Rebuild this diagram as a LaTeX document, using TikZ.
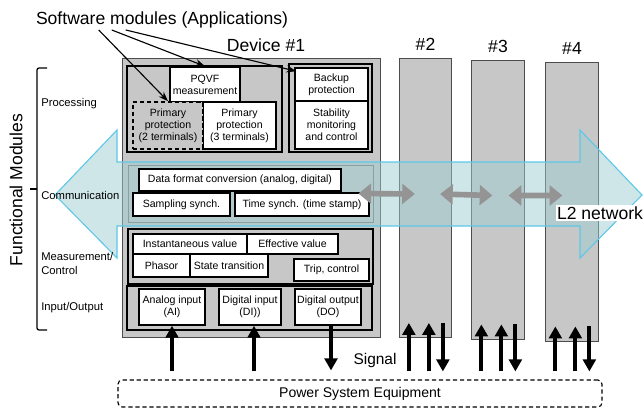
\documentclass[tikz,border=0pt]{standalone}
\usepackage{fontspec}
\setmainfont{Liberation Sans}
\usetikzlibrary{arrows.meta,calc,positioning}

\definecolor{netfill}{RGB}{159,205,209}
\definecolor{netline}{RGB}{95,200,232}

\begin{document}
\begin{tikzpicture}[x=0.25mm, y=-0.25mm,
  every node/.style={inner sep=0pt},
  devbox/.style={draw=black!70, fill=black!22, line width=0.6pt},
  grpbox/.style={draw=black, fill=black!22, line width=1.2pt},
  modbox/.style={draw=black, fill=white, line width=1.1pt, align=center,
    font=\fontsize{7.5}{8.6}\selectfont},
  laylabel/.style={anchor=west, align=left, font=\fontsize{8}{9.4}\selectfont},
  big/.style={font=\fontsize{12.5}{14}\selectfont},
  sigarrow/.style={line width=2.8pt, -{Triangle[length=8.5pt,width=9pt]}},
  netarrow/.style={draw=black!42, line width=4pt,
    {Triangle[length=9pt,width=14pt]}-{Triangle[length=9pt,width=14pt]}},
  swarrow/.style={line width=0.8pt, -{Stealth[length=7pt,width=5pt]}}]
  \useasboundingbox (0,0) rectangle (644,409);

  % devices
  \node[devbox, minimum width=64.5mm, minimum height=69.75mm] (dev1) at (251,197.5) {};
  \foreach \n/\x/\y/\lab in {dev2/425.5/198/2, dev3/498/199.5/3, dev4/572/201.5/4}
    \node[devbox, minimum width=13.1mm, minimum height=69.75mm,
      label={[big, label distance=1.75mm]above:\#\lab}] (\n) at (\x,\y) {};
  \node[big] (dev1lab) at (266,45) {Device \#1};

  % module groups of device #1
  \draw[grpbox] (127,66) rectangle (282,152);
  \draw[grpbox] (289,64) rectangle (372,152);
  \draw[devbox, draw=black!55] (128,165) rectangle (373,222);
  \draw[grpbox] (128,229) rectangle (373,284);
  \draw[grpbox] (127,286) rectangle (372,330);

  \foreach \n/\x/\y/\w/\h/\t in {
      pqvf/205/84.5/70/35/{PQVF\\measurement},
      pp3/239.5/125.5/73/47/{Primary\\protection\\(3 terminals)},
      backup/331.5/84.5/73/33/{Backup\\protection},
      stab/331.5/125/73/48/{Stability\\monitoring\\and control}}
    \node[modbox, minimum width=\w*0.25mm, minimum height=\h*0.25mm] (\n) at (\x,\y) {\t};
  \node[modbox, fill=black!22, dash pattern=on 3pt off 2pt, minimum width=17.5mm,
    minimum height=11.75mm] (pp2) at (168,125.5) {Primary\\protection\\(2 terminals)};

  % L2 network
  \path[fill=netfill, fill opacity=0.5, draw=netline, line width=0.8pt]
    (55,195) -- (117,130) -- (117,162) -- (580,162) -- (580,130) -- (642,195)
    -- (580,258) -- (580,226) -- (117,226) -- (117,258) -- cycle;

  \foreach \n/\x/\y/\w/\h/\t in {
      dataconv/240/180/202/22/{Data format conversion (analog, digital)},
      sampsync/181.5/204.5/97/23/{Sampling synch.},
      timesync/302/204.5/134/23/{Time synch. (time stamp)},
      inst/190/244/114/20/{Instantaneous value},
      eff/292.5/244/91/20/{Effective value},
      phasor/161.5/265.5/57/23/{Phasor},
      state/229/265.5/78/23/{State transition},
      trip/331.5/270/75/22/{Trip, control},
      ai/172/307/66/36/{Analog input\\(AI)},
      di/250/307/62/36/{Digital input\\(DI))},
      dout/328/307/66/36/{Digital output\\(DO)}}
    \node[modbox, minimum width=\w*0.25mm, minimum height=\h*0.25mm] (\n) at (\x,\y) {\t};

  \draw[netarrow] ([xshift=-5.5mm,yshift=1mm]dev1.east) -- ([xshift=4mm,yshift=1mm]dev2.west);
  \draw[netarrow] ([xshift=-3mm,yshift=1mm]dev2.east) -- ([xshift=5.25mm,yshift=1mm]dev3.west);
  \draw[netarrow] ([xshift=-4mm,yshift=1mm]dev3.east) -- ([xshift=4.25mm,yshift=1.5mm]dev4.west);
  \node[big, fill=white, inner sep=1pt] (l2) at (600,213) {L2 network};

  % functional modules
  \node[big, rotate=90] (fm) at (16,190) {Functional Modules};
  \draw[line width=0.9pt, rounded corners=1.5pt] (47,68) -- (37,68) -- (37,330) -- (47,330);
  \draw[line width=0.9pt] (37,189) -- (30,189);
  \node[laylabel] (lproc) at (41,104) {Processing};
  \node[laylabel] (lcomm) at (41,195) {Communication};
  \node[laylabel] (lmeas) at (41,263.5) {Measurement/\\Control};
  \node[laylabel] (lio) at (41,308) {Input/Output};

  % applications
  \node[big] (swmod) at (162,19.5) {Software modules (Applications)};
  \draw[swarrow] ([xshift=15.75mm,yshift=-0.5mm]swmod.south west) -- (pp2.north);
  \draw[swarrow] ([xshift=19mm,yshift=-0.5mm]swmod.south west) -- (pqvf.north);
  \draw[swarrow] ([xshift=22.5mm,yshift=-0.5mm]swmod.south west)
    -- ([xshift=0.5mm,yshift=-1mm]backup.north west);

  % signals
  \node[draw, dash pattern=on 3pt off 2pt, rounded corners=3pt, line width=0.8pt,
    minimum width=121mm, minimum height=6.75mm, font=\fontsize{10}{12}\selectfont]
    (pse) at (360,393.5) {Power System Equipment};
  \node[font=\fontsize{11}{13}\selectfont] (sig) at (375,360) {Signal};
  \draw[sigarrow, shorten <=2mm] (ai.south |- pse.north) -- (ai.south);
  \draw[sigarrow, shorten <=2mm] ([xshift=1mm]di.south |- pse.north) -- ([xshift=1mm]di.south);
  \draw[sigarrow, shorten >=2.25mm] ([xshift=0.75mm]dout.south) -- ([xshift=0.75mm]dout.south |- pse.north);
  \foreach \d in {dev2,dev3,dev4} {
    \draw[sigarrow, shorten <=2mm] ([xshift=2.5mm]\d.south west |- pse.north)
      -- ([xshift=2.5mm,yshift=3.75mm]\d.south west);
    \draw[sigarrow, shorten <=2mm] ([xshift=7.5mm]\d.south west |- pse.north)
      -- ([xshift=7.5mm,yshift=3.75mm]\d.south west);
    \draw[sigarrow, shorten >=2mm] ([xshift=11mm,yshift=3.75mm]\d.south west)
      -- ([xshift=11mm]\d.south west |- pse.north);
  }
\end{tikzpicture}
\end{document}
